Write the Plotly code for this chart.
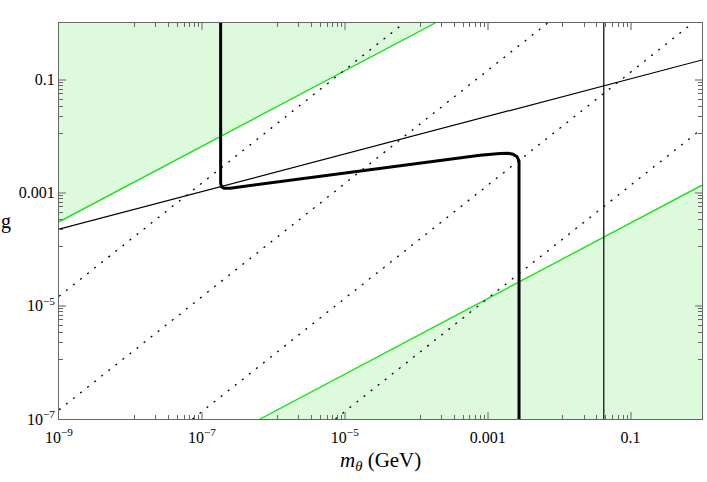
"""Log-log exclusion plot: coupling g against mass m_theta."""

import plotly.graph_objects as go

# ---- data ----
# green boundaries, g ~ m^(2/3)
upper_green_m = [1e-9, 1.85e-4]
upper_green_g = [3.06e-4, 1.0]
lower_green_m = [6.52e-7, 1.0]
lower_green_g = [1e-7, 1.36e-3]

# thin black line, g ~ m^(1/3)
thin_m = [1e-9, 1.0]
thin_g = [2.27e-4, 0.222]

# thin vertical line
vline_m = [0.0422, 0.0422]
vline_g = [1e-7, 1.0]

# dotted lines, g ~ m
dotted_m = [
    [1e-9, 6.76e-5],
    [1e-9, 6.9e-3],
    [7.4e-8, 0.741],
    [7.4e-6, 1.0],
]
dotted_g = [
    [1.48e-5, 1.0],
    [1.45e-7, 1.0],
    [1e-7, 1.0],
    [1e-7, 0.0135],
]

# thick black contour
thick_m = [1.83e-7, 1.83e-7, 1.884e-7, 2.04e-7, 2.48e-7, 7.82e-4,
           1.49e-3, 1.93e-3, 2.265e-3, 2.576e-3, 2.748e-3, 2.748e-3]
thick_g = [1.0, 1.476e-3, 1.279e-3, 1.205e-3, 1.205e-3, 4.61e-3,
           4.94e-3, 5.0e-3, 4.80e-3, 4.335e-3, 3.61e-3, 1e-7]

# ticks
x_tickvals = [1e-9, 1e-7, 1e-5, 1e-3, 1e-1]
x_ticktext = ["10<sup>\u22129</sup>", "10<sup>\u22127</sup>", "10<sup>\u22125</sup>", "0.001", "0.1"]
y_tickvals = [1e-7, 1e-5, 1e-3, 1e-1]
y_ticktext = ["10<sup>\u22127</sup>", "10<sup>\u22125</sup>", "0.001", "0.1"]
minor_steps = [1.13, 2.26, 3.39, 4.52, 5.65, 6.78, 7.91, 9.04]
x_minor = [k * 10.0 ** e for e in (-8, -6, -4, -2) for k in minor_steps]
y_minor = [k * 10.0 ** e for e in (-6, -4, -2) for k in minor_steps]

GREEN = "#10e010"
FILL = "#ddfadd"
FONT = "Liberation Serif"

fig = go.Figure()

# shaded regions
fig.add_trace(go.Scatter(
    x=upper_green_m + [upper_green_m[0]],
    y=upper_green_g + [upper_green_g[1]],
    fill="toself", fillcolor=FILL, mode="none", hoverinfo="skip",
))
fig.add_trace(go.Scatter(
    x=lower_green_m + [lower_green_m[1]],
    y=lower_green_g + [lower_green_g[0]],
    fill="toself", fillcolor=FILL, mode="none", hoverinfo="skip",
))

# green boundaries
for xs, ys in [(upper_green_m, upper_green_g), (lower_green_m, lower_green_g)]:
    fig.add_trace(go.Scatter(x=xs, y=ys, mode="lines",
                             line=dict(color=GREEN, width=1.3)))

# dotted lines
for xs, ys in zip(dotted_m, dotted_g):
    fig.add_trace(go.Scatter(x=xs, y=ys, mode="lines",
                             line=dict(color="black", width=1.3, dash="2px,7px")))

fig.add_trace(go.Scatter(x=thin_m, y=thin_g, mode="lines",
                         line=dict(color="black", width=1.2)))
fig.add_trace(go.Scatter(x=vline_m, y=vline_g, mode="lines",
                         line=dict(color="black", width=1.2)))
fig.add_trace(go.Scatter(x=thick_m, y=thick_g, mode="lines",
                         line=dict(color="black", width=3)))

axis_common = dict(
    type="log",
    showgrid=False,
    zeroline=False,
    showline=True,
    linecolor="#666666",
    linewidth=1,
    mirror="ticks",
    ticks="inside",
    ticklen=7,
    tickwidth=1.5,
    tickcolor="#aaaaaa",
    tickfont=dict(family=FONT, size=16, color="black"),
)

fig.update_layout(
    width=707,
    height=482,
    margin=dict(l=59, r=5, t=23, b=63, autoexpand=False),
    plot_bgcolor="white",
    paper_bgcolor="white",
    showlegend=False,
    xaxis=dict(
        axis_common,
        range=[-9, 0],
        tickvals=x_tickvals,
        ticktext=x_ticktext,
        ticklabelstandoff=4,
        minor=dict(tickvals=x_minor, ticks="inside", ticklen=4,
                   tickcolor="#666666", tickwidth=1),
    ),
    yaxis=dict(
        axis_common,
        range=[-7, 0],
        tickvals=y_tickvals,
        ticktext=y_ticktext,
        minor=dict(tickvals=y_minor, ticks="inside", ticklen=4,
                   tickcolor="#666666", tickwidth=1),
    ),
    annotations=[
        dict(text="<i>m</i><sub><i>\u03b8</i></sub> (GeV)", xref="paper", yref="paper",
             x=0.5, y=-0.068, yanchor="top", showarrow=False,
             font=dict(family=FONT, size=21, color="black")),
        dict(text="g", xref="paper", yref="paper", x=-0.082, y=0.5,
             xanchor="center", yanchor="middle", showarrow=False,
             font=dict(family=FONT, size=20, color="black")),
    ],
)

# drop the default 8px body margin so the figure fills the window exactly
fig.write_html(
    "out.html",
    config={"displayModeBar": False},
    post_script="document.body.style.margin='0';",
)
